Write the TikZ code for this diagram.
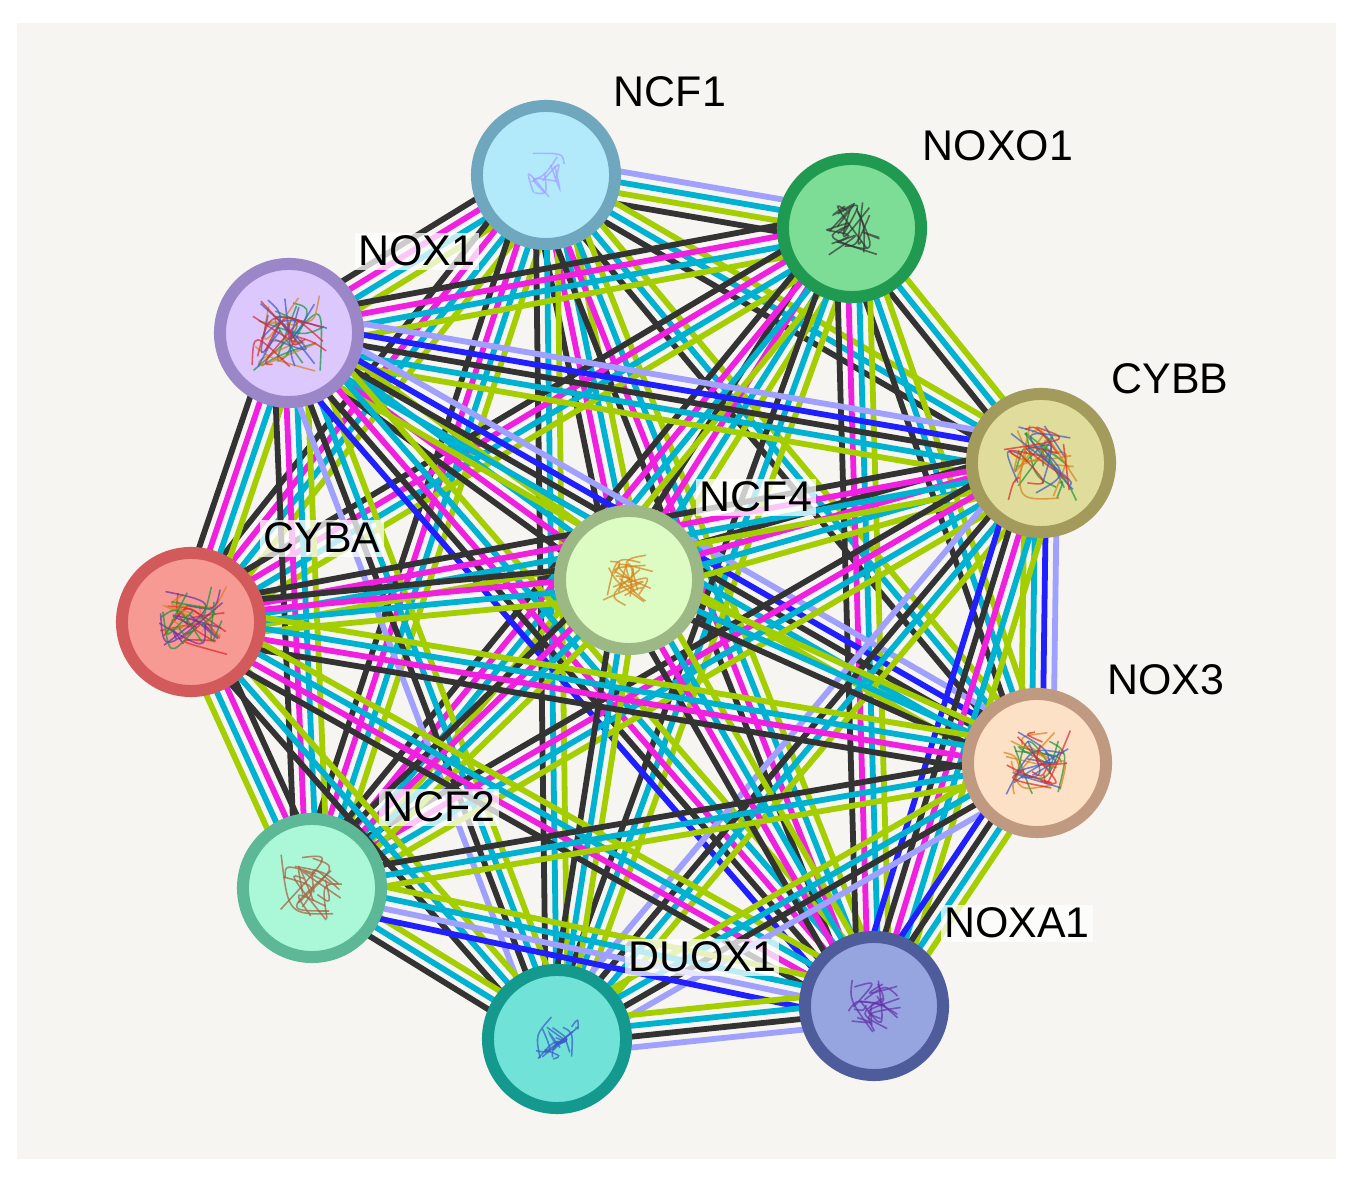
\documentclass[tikz,border=0pt]{standalone}
\usepackage{fontspec}
\setmainfont{Liberation Sans}
\usetikzlibrary{calc}
\pgfdeclarelayer{panel}
\pgfdeclarelayer{links}
\pgfsetlayers{panel,links,main}

% evidence colours
\definecolor{sgk}{RGB}{51,51,51}
\definecolor{sgm}{RGB}{240,32,224}
\definecolor{sgc}{RGB}{0,178,210}
\definecolor{sgy}{RGB}{164,206,0}
\definecolor{sgv}{RGB}{160,160,255}
\definecolor{sgb}{RGB}{32,32,255}
\definecolor{paper}{RGB}{246,245,241}

% protein colours
\definecolor{ncfonef}{RGB}{178,234,252}   \definecolor{ncfoneb}{RGB}{111,168,190}
\definecolor{noxoonef}{RGB}{125,220,150}  \definecolor{noxooneb}{RGB}{31,154,80}
\definecolor{noxonef}{RGB}{220,200,252}   \definecolor{noxoneb}{RGB}{155,134,200}
\definecolor{cybbf}{RGB}{224,220,156}     \definecolor{cybbb}{RGB}{162,155,92}
\definecolor{ncffourf}{RGB}{220,252,196}  \definecolor{ncffourb}{RGB}{156,184,132}
\definecolor{cybaf}{RGB}{248,154,148}     \definecolor{cybab}{RGB}{210,90,90}
\definecolor{noxthreef}{RGB}{253,225,198} \definecolor{noxthreeb}{RGB}{192,154,128}
\definecolor{ncftwof}{RGB}{170,248,216}   \definecolor{ncftwob}{RGB}{92,184,150}
\definecolor{duoxf}{RGB}{112,226,216}     \definecolor{duoxb}{RGB}{20,153,142}
\definecolor{noxaf}{RGB}{150,164,224}     \definecolor{noxab}{RGB}{78,92,156}

% structure colours
\definecolor{stgreen}{RGB}{20,150,60}
\definecolor{storange}{RGB}{215,130,30}
\definecolor{stblue}{RGB}{60,90,200}
\definecolor{stred}{RGB}{220,40,40}
\definecolor{stbrown}{RGB}{170,90,60}
\definecolor{stpurple}{RGB}{100,50,170}

\tikzset{
  prot/.style 2 args={circle, minimum size=1.38cm, inner sep=0pt, line width=0.12cm, draw=#1, fill=#2},
  lbl/.style={font=\fontsize{12.2}{14}\selectfont, anchor=base, inner sep=1pt},
  halo/.style={lbl, fill=white, fill opacity=0.75, text opacity=1},
  lnkline/.style={line width=1.65pt},
  foldline/.style={line width=0.45pt, opacity=0.7},
}

% parallel evidence lines between two proteins
\newcommand{\lnk}[3]{%
  \foreach \lc [count=\n] in {#3} {\xdef\lnkn{\n}}%
  \foreach \lc [count=\i] in {#3} {%
    \pgfmathsetmacro{\off}{(\i-(\lnkn+1)/2)*0.108}%
    \draw[lnkline, draw=\lc] ($(#1)!\off cm!90:(#2)$) -- ($(#2)!\off cm!-90:(#1)$);
  }}

% rough fold sketch inside a protein
\newcommand{\fold}[3]{%
  \foreach \fc in {#2} {%
    \foreach \k in {1,...,7} {%
      \draw[foldline, \fc] ($(#1)+(rand*#3,rand*#3)$) .. controls ($(#1)+(rand*#3,rand*#3)$) .. ($(#1)+(rand*#3,rand*#3)$);
    }}}

\begin{document}
\begin{tikzpicture}[x=0.01cm,y=-0.01cm]
\useasboundingbox (0,0) rectangle (1360,1186);
\begin{pgfonlayer}{panel}
  \fill[white] (0,0) rectangle (1360,1186);
  \fill[paper] (17,23) rectangle (1336,1159);
\end{pgfonlayer}
\pgfmathsetseed{7}

% proteins
\node[prot={ncfoneb}{ncfonef}]     (ncf1)  at (546,175)  {};
\node[prot={noxooneb}{noxoonef}]   (noxo1) at (852,228)  {};
\node[prot={noxoneb}{noxonef}]     (nox1)  at (289,333)  {};
\node[prot={cybbb}{cybbf}]         (cybb)  at (1041,463) {};
\node[prot={ncffourb}{ncffourf}]   (ncf4)  at (629,580)  {};
\node[prot={cybab}{cybaf}]         (cyba)  at (191,622)  {};
\node[prot={noxthreeb}{noxthreef}] (nox3)  at (1037,763) {};
\node[prot={ncftwob}{ncftwof}]     (ncf2)  at (312,888)  {};
\node[prot={duoxb}{duoxf}]         (duox1) at (557,1039) {};
\node[prot={noxab}{noxaf}]         (noxa1) at (874,1006) {};

% folds
\fold{ncf1}{sgv}{22}
\fold{noxo1}{sgk,sgk}{30}
\fold{nox1}{stgreen,storange,stblue,stred}{38}
\fold{cybb}{stgreen,storange,stblue,stred}{38}
\fold{ncf4}{storange,storange}{26}
\fold{cyba}{stred,storange,stpurple,stgreen}{36}
\fold{nox3}{stgreen,storange,stblue,stred}{34}
\fold{ncf2}{stbrown,stbrown}{34}
\fold{duox1}{stblue,stblue}{22}
\fold{noxa1}{stpurple,stpurple}{27}

% names
\node[lbl]  (ncf1l)  at (670,107)  {NCF1};
\node[lbl]  (noxo1l) at (998,161)  {NOXO1};
\node[halo] (nox1l)  at (417,266)  {NOX1};
\node[lbl]  (cybbl)  at (1170,394) {CYBB};
\node[halo] (ncf4l)  at (756,512)  {NCF4};
\node[halo] (cybal)  at (322,553)  {CYBA};
\node[lbl]  (nox3l)  at (1166,695) {NOX3};
\node[halo] (ncf2l)  at (439,822)  {NCF2};
\node[halo] (duox1l) at (702,972)  {DUOX1};
\node[halo] (noxa1l) at (1017,938) {NOXA1};

\begin{pgfonlayer}{links}
\lnk{noxo1}{ncf1}{sgv,sgc,sgy,sgk}
\lnk{ncf1}{nox1}{sgk,sgm,sgc,sgy}
\lnk{ncf1}{cybb}{sgk,sgc,sgy}
\lnk{ncf1}{ncf4}{sgk,sgm,sgc,sgy}
\lnk{ncf1}{cyba}{sgk,sgm,sgc,sgy}
\lnk{ncf1}{nox3}{sgk,sgc,sgy}
\lnk{ncf1}{ncf2}{sgk,sgm,sgc,sgy}
\lnk{ncf1}{duox1}{sgk,sgc,sgy}
\lnk{ncf1}{noxa1}{sgk,sgm,sgc,sgy}
\lnk{noxo1}{nox1}{sgk,sgm,sgc,sgy}
\lnk{noxo1}{cybb}{sgk,sgc,sgy}
\lnk{noxo1}{ncf4}{sgk,sgm,sgc,sgy}
\lnk{noxo1}{cyba}{sgk,sgm,sgc,sgy}
\lnk{noxo1}{nox3}{sgk,sgc,sgy}
\lnk{noxo1}{ncf2}{sgk,sgm,sgc,sgy}
\lnk{noxo1}{duox1}{sgk,sgc,sgy}
\lnk{noxo1}{noxa1}{sgk,sgm,sgc,sgy}
\lnk{cybb}{nox1}{sgv,sgb,sgk,sgc,sgy}
\lnk{nox1}{ncf4}{sgk,sgm,sgc,sgy}
\lnk{nox1}{cyba}{sgk,sgm,sgc,sgy}
\lnk{nox3}{nox1}{sgv,sgb,sgk,sgc,sgy}
\lnk{nox1}{ncf2}{sgk,sgm,sgc,sgy}
\lnk{nox1}{duox1}{sgv,sgk,sgc,sgy}
\lnk{nox1}{noxa1}{sgb,sgk,sgm,sgc,sgy}
\lnk{cybb}{ncf4}{sgk,sgm,sgc,sgy}
\lnk{cybb}{cyba}{sgk,sgm,sgc,sgy}
\lnk{nox3}{cybb}{sgv,sgb,sgc,sgy}
\lnk{cybb}{ncf2}{sgk,sgm,sgc,sgy}
\lnk{cybb}{duox1}{sgv,sgk,sgc,sgy}
\lnk{cybb}{noxa1}{sgb,sgk,sgm,sgc,sgy}
\lnk{ncf4}{cyba}{sgk,sgm,sgc,sgy}
\lnk{ncf4}{nox3}{sgk,sgc,sgy}
\lnk{ncf4}{ncf2}{sgk,sgm,sgc,sgy}
\lnk{ncf4}{duox1}{sgk,sgc,sgy}
\lnk{ncf4}{noxa1}{sgk,sgm,sgc,sgy}
\lnk{cyba}{nox3}{sgk,sgm,sgc,sgy}
\lnk{ncf2}{cyba}{sgk,sgm,sgc,sgy}
\lnk{cyba}{duox1}{sgk,sgc,sgy}
\lnk{cyba}{noxa1}{sgk,sgm,sgc,sgy}
\lnk{nox3}{ncf2}{sgk,sgc,sgy}
\lnk{duox1}{nox3}{sgv,sgk,sgc,sgy}
\lnk{nox3}{noxa1}{sgb,sgk,sgc,sgy}
\lnk{ncf2}{duox1}{sgk,sgc,sgy}
\lnk{ncf2}{noxa1}{sgb,sgv,sgc,sgy}
\lnk{duox1}{noxa1}{sgv,sgk,sgc,sgy}
\end{pgfonlayer}
\end{tikzpicture}
\end{document}
